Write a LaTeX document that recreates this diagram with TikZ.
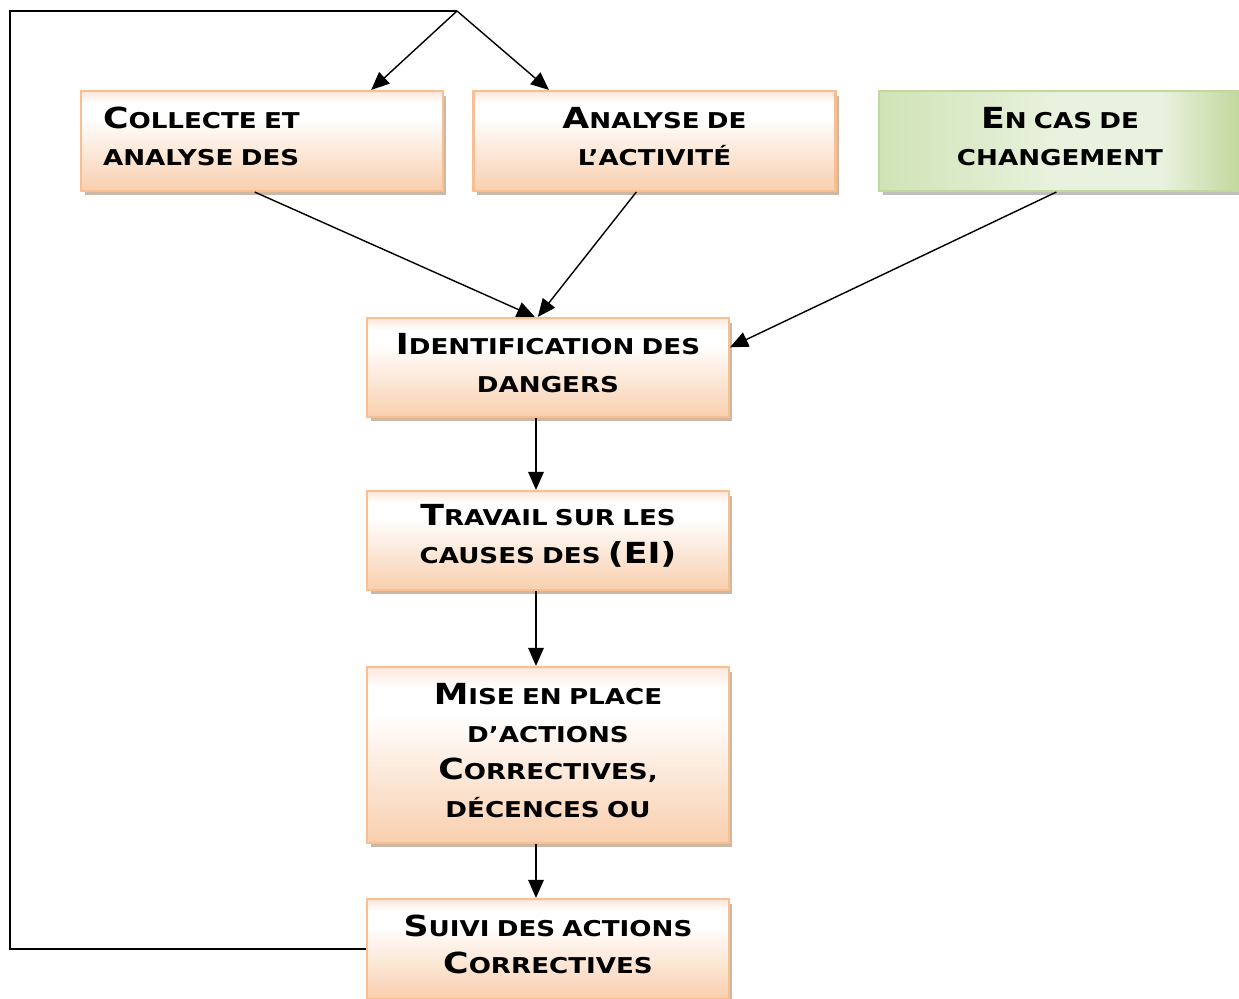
\documentclass[tikz,border=0pt]{standalone}
\usepackage{fontspec}
\newfontfamily\cpfont{DejaVu Sans}[FakeStretch=1.2]
\usetikzlibrary{arrows.meta,calc,shadows}
\definecolor{peachB}{HTML}{F8BF92}
\definecolor{peachF}{HTML}{F9CFAE}
\definecolor{peachT}{HTML}{FCE6DA}
\definecolor{shadowC}{HTML}{C9B09A}
\definecolor{greenB}{HTML}{C2D89F}
\definecolor{greenL}{HTML}{D0E3B6}
\definecolor{greenM}{HTML}{E9F2DE}
\definecolor{greenR}{HTML}{C1D79C}
\pgfdeclareverticalshading{peachsh}{100bp}{color(0bp)=(peachF); color(25bp)=(peachF); color(62bp)=(white); color(69bp)=(white); color(75bp)=(peachT); color(100bp)=(peachT)}
\pgfdeclarehorizontalshading{greensh}{100bp}{color(0bp)=(greenL); color(25bp)=(greenL); color(50bp)=(greenM); color(64bp)=(greenM); color(75bp)=(greenR); color(100bp)=(greenR)}
\newcommand\B[1]{{\fontsize{16.5}{21.5}\selectfont #1}}
\newcommand\up{\par\nointerlineskip\hbox{\rule{0pt}{0.18cm}}}
\tikzset{
  box/.style={draw=peachB, line width=1.2pt, shading=peachsh,
    drop shadow={shadow xshift=0.07cm, shadow yshift=-0.09cm, fill=shadowC, opacity=0.9},
    minimum width=7.24cm, text width=6.36cm, inner xsep=0.44cm, minimum height=2cm,
    font=\cpfont\bfseries\fontsize{12.4}{21.5}\selectfont, align=center},
  gbox/.style={box, draw=greenB, shading=greensh,
    drop shadow={shadow xshift=0.07cm, shadow yshift=-0.09cm, fill=black!25, opacity=0.9}},
  arr/.style={line width=0.8pt, -{Triangle[length=0.36cm,width=0.31cm]}},
  ln/.style={line width=0.8pt}
}
\begin{document}
\begin{tikzpicture}[x=0.02cm,y=-0.02cm]
\useasboundingbox (0,0) rectangle (1239,999);
\node[box, align=left] (n1) at (262,141) {\B{C}OLLECTE ET\\ANALYSE DES\up};
\node[box] (n2) at (654.5,141) {\B{A}NALYSE DE\\L’ACTIVITÉ\up};
\node[gbox] (n3) at (1060,141) {\B{E}N CAS DE\\CHANGEMENT\up};
\node[box, minimum height=1.98cm] (n4) at (548,367.5) {\B{I}DENTIFICATION DES\\DANGERS\up};
\node[box, minimum height=1.98cm] (n5) at (548,540.5) {\B{T}RAVAIL SUR LES\\CAUSES DES \B{(EI)}\up};
\node[box, minimum height=3.52cm] (n6) at (548,755) {\B{M}ISE EN PLACE\\D’ACTIONS\\\B{C}ORRECTIVES,\\DÉCENCES OU\up};
\node[box] (n7) at (548,949) {\B{S}UIVI DES ACTIONS\\\B{C}ORRECTIVES\up};
\coordinate (top) at (457,11);
\coordinate (c1) at (10,11);
\coordinate (c2) at (10,949);
\draw[ln] (n7.west) -- (c2) -- (c1) -- (top);
\draw[arr] (top) -- ($(n1.north west)!0.8!(n1.north east)$);
\draw[arr] (top) -- ($(n2.north west)!0.21!(n2.north east)$);
\draw[arr] ($(n1.south west)!0.48!(n1.south east)$) -- ($(n4.north west)!0.464!(n4.north east)$);
\draw[arr] ($(n2.south west)!0.45!(n2.south east)$) -- ($(n4.north west)!0.472!(n4.north east)$);
\draw[arr] ($(n3.south west)!0.49!(n3.south east)$) -- ($(n4.north east)!0.3!(n4.south east)$);
\draw[arr] ($(n4.south west)!0.467!(n4.south east)$) -- ($(n5.north west)!0.467!(n5.north east)$);
\draw[arr] ($(n5.south west)!0.467!(n5.south east)$) -- ($(n6.north west)!0.467!(n6.north east)$);
\draw[arr] ($(n6.south west)!0.467!(n6.south east)$) -- ($(n7.north west)!0.467!(n7.north east)$);
\end{tikzpicture}
\end{document}
